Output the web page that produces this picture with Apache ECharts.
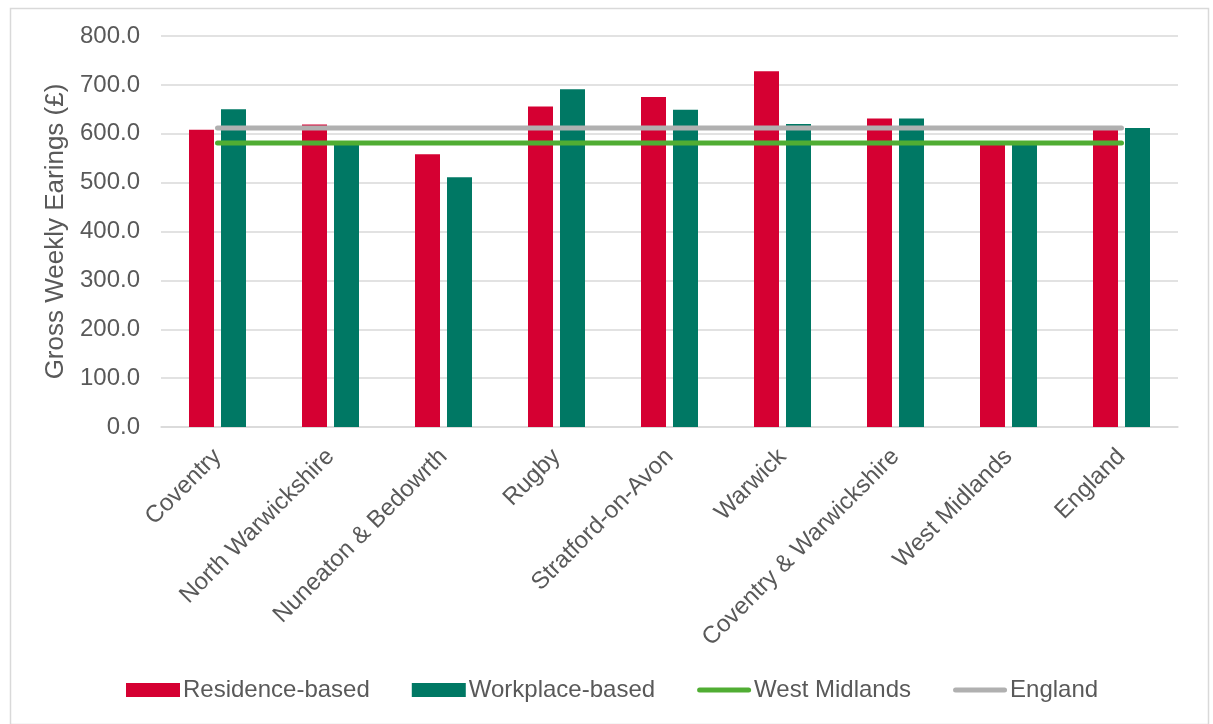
<!DOCTYPE html>
<html>
<head>
<meta charset="utf-8">
<script src="https://cdn.jsdelivr.net/npm/echarts@6/dist/echarts.min.js"></script>
<style>
html,body{margin:0;padding:0;background:#fff;}
#chart{width:1213px;height:724px;}
</style>
</head>
<body>
<div id="chart"></div>
<script>
var categories = ['Coventry','North Warwickshire','Nuneaton & Bedowrth','Rugby','Stratford-on-Avon','Warwick','Coventry & Warwickshire','West Midlands','England'];
var residence = [608, 619, 558, 656, 675, 728, 631, 580, 611];
var workplace = [650, 582, 511, 691, 649, 620, 631, 579, 612];
var westMidlands = [581, 581, 581, 581, 581, 581, 581, 581, 581];
var england = [612, 612, 612, 612, 612, 612, 612, 612, 612];
var yTicks = [0, 100, 200, 300, 400, 500, 600, 700, 800];

var textColor = '#595959';
var fontFamily = '"Liberation Sans", Arial, sans-serif';
var lineIcon = 'path://M2.5,0 L51.5,0 A2.5,2.5 0 0 1 51.5,5 L2.5,5 A2.5,2.5 0 0 1 2.5,0 Z';
var chart = echarts.init(document.getElementById('chart'));
chart.setOption({
  animation: false,
  backgroundColor: '#fff',
  textStyle: {fontFamily: fontFamily, color: textColor},
  graphic: [{
    type: 'rect', left: 8, top: 6,
    shape: {width: 1198, height: 716},
    style: {fill: 'none', stroke: '#d9d9d9', lineWidth: 1.5},
    silent: true, z: -10
  }],
  grid: {left: 161, right: 35, top: 36, bottom: 297, containLabel: false},
  legend: {
    bottom: 17, left: 121,
    itemWidth: 54, itemHeight: 14, itemGap: 42,
    symbolKeepAspect: true,
    textStyle: {fontSize: 24, color: textColor, fontFamily: fontFamily, padding: [0,0,0,-2]},
    data: [
      {name: 'Residence-based', icon: 'rect'},
      {name: 'Workplace-based', icon: 'rect'},
      {name: 'West Midlands', icon: lineIcon},
      {name: 'England', icon: lineIcon}
    ]
  },
  xAxis: {
    type: 'category', data: categories,
    axisLine: {lineStyle: {color: '#d9d9d9', width: 1.5}},
    axisTick: {show: false},
    axisLabel: {rotate: 45, interval: 0, fontSize: 24, color: textColor, margin: 26, fontFamily: fontFamily}
  },
  yAxis: {
    type: 'value', min: yTicks[0], max: yTicks[yTicks.length-1], interval: 100,
    name: 'Gross Weekly Earings (£)', nameLocation: 'middle', nameGap: 88,
    nameTextStyle: {fontSize: 26, color: textColor, fontFamily: fontFamily},
    axisLine: {show: false}, axisTick: {show: false},
    axisLabel: {fontSize: 24, color: textColor, margin: 21, fontFamily: fontFamily,
      formatter: function(v){ return v.toFixed(1); }},
    splitLine: {lineStyle: {color: '#d9d9d9', width: 1.5}}
  },
  series: [
    {name: 'Residence-based', type: 'bar', data: residence, barWidth: 25, barGap: '28%',
      itemStyle: {color: '#D50032'}, z: 2},
    {name: 'Workplace-based', type: 'bar', data: workplace, barWidth: 25,
      itemStyle: {color: '#007864'}, z: 2},
    {name: 'West Midlands', type: 'line', data: westMidlands, symbol: 'none', showSymbol: false,
      itemStyle: {color: '#50AD33'},
      lineStyle: {color: '#50AD33', width: 5, cap: 'round'}, z: 5},
    {name: 'England', type: 'line', data: england, symbol: 'none', showSymbol: false,
      itemStyle: {color: '#B0B0B0'},
      lineStyle: {color: '#B0B0B0', width: 5, cap: 'round'}, z: 5}
  ]
});
</script>
</body>
</html>
